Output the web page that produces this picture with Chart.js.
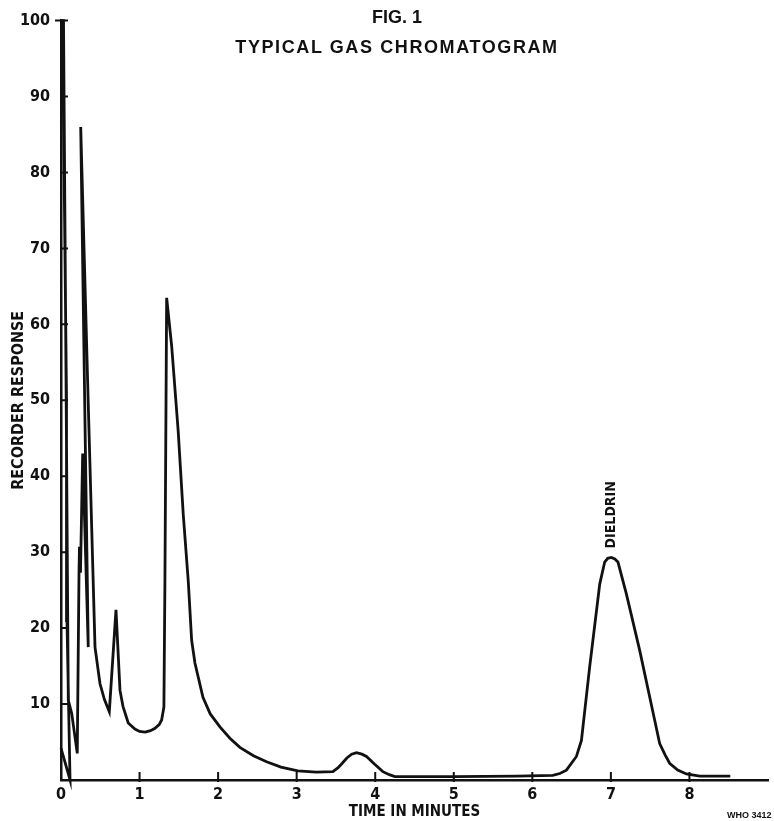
<!DOCTYPE html>
<html>
<head>
<meta charset="utf-8">
<script src="https://cdn.jsdelivr.net/npm/chart.js@4/dist/chart.umd.min.js"></script>
<style>
  body { margin: 0; background: #fff; }
  #wrap { position: relative; width: 774px; height: 821px; }
  .fig {
    position: absolute; left: 97px; top: 2px; width: 600px;
    text-align: center; font: bold 18px 'Liberation Sans', Arial, sans-serif;
    line-height: 30px; color: #111;
  }
  .fig span { letter-spacing: 1.6px; }
  .who {
    position: absolute; left: 727px; top: 810px;
    font: bold 9px 'Liberation Sans', Arial, sans-serif; line-height: 10px; color: #111;
  }
</style>
</head>
<body>
<div id="wrap">
  <canvas id="gc-chart" width="774" height="821"></canvas>
  <div class="fig">FIG. 1<br><span>TYPICAL GAS CHROMATOGRAM</span></div>
  <div class="who">WHO 3412</div>
</div>
<script>
// trace (time in minutes, response)
const times = [0, 0.115, 0.076, 0.07, 0.019, 0.032, 0.093, 0.136, 0.207,
  0.229, 0.235, 0.248, 0.276, 0.347, 0.251, 0.346, 0.433, 0.496, 0.553, 0.615,
  0.70, 0.751, 0.789, 0.856, 0.941, 1.0, 1.069, 1.14, 1.196, 1.25, 1.281, 1.31, 1.323, 1.345,
  1.41, 1.492, 1.556, 1.62, 1.663, 1.705, 1.807, 1.9, 2.023, 2.15, 2.277, 2.45, 2.617, 2.8, 3.015,
  3.25, 3.461, 3.524, 3.58, 3.639, 3.70, 3.762, 3.83, 3.889, 3.99, 4.097, 4.18, 4.249,
  5.0, 5.8, 6.26, 6.35, 6.434, 6.561, 6.625, 6.73, 6.858, 6.921, 6.96, 7.006, 7.05, 7.09,
  7.197, 7.366, 7.557, 7.621, 7.69, 7.748, 7.85, 7.961, 8.13, 8.52];
const response = [4.2, 0, 21, 50.4, 100, 100, 10.5, 8.8, 3.5,
  27, 30.7, 27.3, 43, 17.5, 86, 49.9, 17.5, 12.7, 10.6, 9,
  22.4, 11.8, 9.7, 7.5, 6.7, 6.4, 6.3, 6.5, 6.8, 7.3, 7.9, 9.6, 26.2, 63.5,
  57, 45.9, 35, 26.2, 18.4, 15.4, 10.9, 8.7, 7, 5.5, 4.3, 3.2, 2.4, 1.7, 1.2,
  1.05, 1.1, 1.6, 2.2, 2.9, 3.4, 3.6, 3.4, 3.1, 2.1, 1.1, 0.7, 0.45,
  0.45, 0.5, 0.6, 0.85, 1.3, 3.1, 5.2, 14.9, 25.8, 28.7, 29.2, 29.3, 29.1, 28.7,
  24.5, 17.1, 7.9, 4.8, 3.3, 2.2, 1.3, 0.8, 0.5, 0.5];

const xTickLabels = ['0', '1', '2', '3', '4', '5', '6', '7', '8'];
const yTickLabels = ['10', '20', '30', '40', '50', '60', '70', '80', '90', '100'];

const peakName = 'DIELDRIN';
const peakTime = 7;
const peakLabelAt = 30.5;

const ink = '#111';
const narrow = "'Liberation Sans Narrow', 'DejaVu Sans Condensed', 'Arial Narrow', sans-serif";

// ticks in the original point into the plot, so draw them here
const inwardTicks = {
  id: 'inwardTicks',
  afterDraw(chart) {
    const { ctx, chartArea, scales: { x, y } } = chart;
    ctx.save();
    ctx.strokeStyle = ink;
    ctx.lineWidth = 2;
    ctx.beginPath();
    y.ticks.forEach(t => {
      if (!yTickLabels.includes(String(t.value))) return;
      const py = y.getPixelForValue(t.value);
      ctx.moveTo(t.value === 100 ? chartArea.left - 6 : chartArea.left, py);
      ctx.lineTo(chartArea.left + 7, py);
    });
    x.ticks.forEach(t => {
      if (t.value === 0 || !xTickLabels.includes(String(t.value))) return;
      const px = x.getPixelForValue(t.value);
      ctx.moveTo(px, chartArea.bottom + 2);
      ctx.lineTo(px, chartArea.bottom - 8);
    });
    ctx.stroke();

    // peak name, written upwards over the peak
    ctx.translate(x.getPixelForValue(peakTime), y.getPixelForValue(peakLabelAt));
    ctx.rotate(-Math.PI / 2);
    ctx.fillStyle = ink;
    ctx.font = 'bold 14px ' + narrow;
    ctx.textAlign = 'left';
    ctx.textBaseline = 'middle';
    ctx.fillText(peakName, 0, 0);
    ctx.restore();
  }
};

const tickFont = { family: narrow, size: 16, weight: 'bold' };
const titleFont = { family: narrow, size: 15, weight: 'bold', lineHeight: 1 };

new Chart(document.getElementById('gc-chart'), {
  type: 'line',
  data: {
    datasets: [{
      data: times.map((t, i) => ({ x: t, y: response[i] })),
      borderColor: ink,
      borderWidth: 2.8,
      pointRadius: 0,
      tension: 0,
      fill: false,
      clip: false
    }]
  },
  options: {
    responsive: false,
    animation: false,
    layout: { padding: { top: 18, right: 6, bottom: 0, left: 0 } },
    plugins: { legend: { display: false }, tooltip: { enabled: false } },
    scales: {
      x: {
        type: 'linear', min: 0, max: 9,
        ticks: {
          stepSize: 1, padding: 5, color: ink, font: tickFont, maxRotation: 0, autoSkip: false,
          callback: v => xTickLabels.includes(String(v)) ? String(v) : ''
        },
        grid: { display: false, drawTicks: false },
        border: { display: true, color: ink, width: 2.5 },
        title: { display: true, text: 'TIME IN MINUTES', color: ink, font: titleFont, padding: { top: 0, bottom: 1 } },
        afterFit: s => { s.height = 41; }
      },
      y: {
        min: 0, max: 100,
        ticks: {
          stepSize: 10, padding: 11, color: ink, font: tickFont,
          callback: v => yTickLabels.includes(String(v)) ? String(v) : ''
        },
        grid: { display: false, drawTicks: false },
        border: { display: true, color: ink, width: 2.5 },
        title: { display: true, text: 'RECORDER RESPONSE', color: ink, font: { ...titleFont, size: 16 }, padding: { top: 11, bottom: 0 } },
        afterFit: s => { s.width = 61; }
      }
    }
  },
  plugins: [inwardTicks]
});
</script>
</body>
</html>
